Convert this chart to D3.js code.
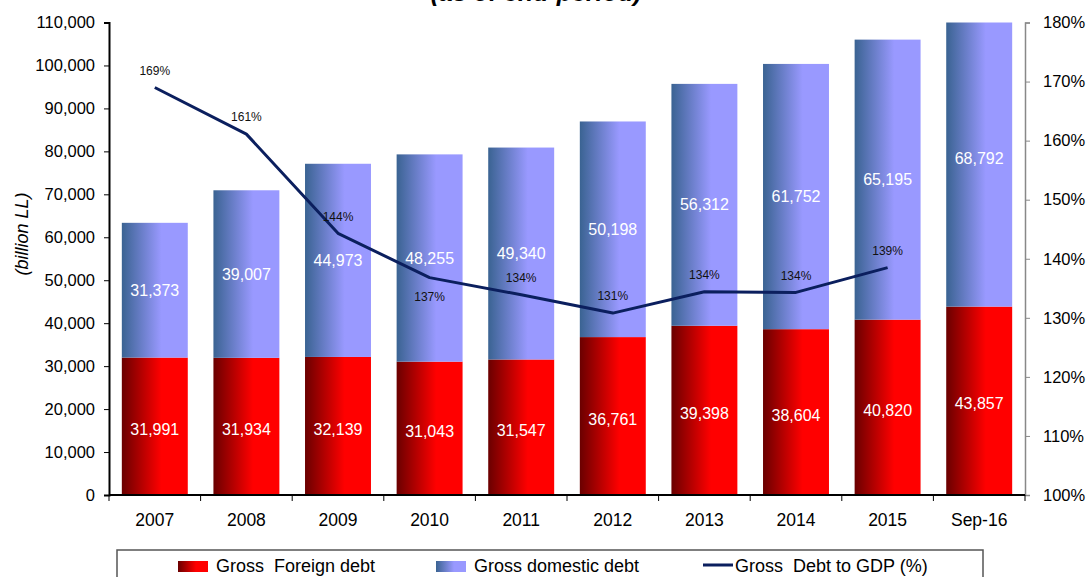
<!DOCTYPE html>
<html>
<head>
<meta charset="utf-8">
<script src="https://cdn.jsdelivr.net/npm/d3@7"></script>
<style>
  body { margin: 0; background: #fff; }
  svg { font-family: "Liberation Sans", Arial, sans-serif; }
</style>
</head>
<body>
<div id="chart"></div>
<script>
// categories and series (billion LL)
const years = ["2007", "2008", "2009", "2010", "2011", "2012", "2013", "2014", "2015", "Sep-16"];
const foreignDebt = [31991, 31934, 32139, 31043, 31547, 36761, 39398, 38604, 40820, 43857];
const domesticDebt = [31373, 39007, 44973, 48255, 49340, 50198, 56312, 61752, 65195, 68792];
// gross debt to GDP (%), no value for Sep-16
const debtToGdp = [169.0, 161.1, 144.3, 136.8, 133.9, 130.8, 134.4, 134.3, 138.5];
const leftTicks = d3.range(0, 110001, 10000);
const rightTicks = d3.range(100, 181, 10);

const width = 1086, height = 577;
const margin = { top: 22.5, right: 61, bottom: 82, left: 109 };
const innerWidth = width - margin.left - margin.right;
const innerHeight = height - margin.top - margin.bottom;

const svg = d3.select("#chart").append("svg")
  .attr("width", width)
  .attr("height", height);

const defs = svg.append("defs");

// horizontal gradients like the original bars
function addGradient(id, dark, light) {
  const grad = defs.append("linearGradient")
    .attr("id", id)
    .attr("x1", 0).attr("x2", 1).attr("y1", 0).attr("y2", 0);
  grad.append("stop").attr("offset", 0).attr("stop-color", dark);
  grad.append("stop").attr("offset", 0.6).attr("stop-color", light);
  grad.append("stop").attr("offset", 1).attr("stop-color", light);
}
addGradient("gradRed", "#6a0000", "#ff0000");
addGradient("gradBlue", "#3a6392", "#9999ff");

defs.append("clipPath").attr("id", "plotClip")
  .append("rect")
  .attr("x", 0).attr("y", 0)
  .attr("width", innerWidth).attr("height", innerHeight + 2);

const g = svg.append("g")
  .attr("transform", `translate(${margin.left}, ${margin.top})`);

// scales
const x = d3.scaleBand()
  .domain(years)
  .range([0, innerWidth])
  .paddingInner(0.28)
  .paddingOuter(0.14);

const y = d3.scaleLinear()
  .domain([0, 110000])
  .range([innerHeight, 0]);

const yRight = d3.scaleLinear()
  .domain([100, 180])
  .range([innerHeight, 0]);

// stacked data
const data = years.map((yr, i) => ({ year: yr, foreign: foreignDebt[i], domestic: domesticDebt[i] }));
const stack = d3.stack().keys(["foreign", "domestic"]);
const series = stack(data);
const fills = { foreign: "url(#gradRed)", domestic: "url(#gradBlue)" };

const barsG = g.append("g").attr("clip-path", "url(#plotClip)");

barsG.selectAll("g.series")
  .data(series)
  .join("g")
  .attr("class", "series")
  .attr("fill", d => fills[d.key])
  .selectAll("rect")
  .data(d => d)
  .join("rect")
  .attr("x", d => x(d.data.year))
  .attr("y", d => y(d[1]))
  .attr("width", x.bandwidth())
  .attr("height", d => y(d[0]) - y(d[1]));

// value labels in each segment
const fmt = d3.format(",");
series.forEach(s => {
  //foreign labels sit a little lower in the original
  const shift = s.key === "foreign" ? 3 : 0;
  g.append("g").selectAll("text")
    .data(s)
    .join("text")
    .attr("x", d => x(d.data.year) + x.bandwidth() / 2)
    .attr("y", d => y((d[0] + d[1]) / 2) + shift)
    .attr("dy", "0.35em")
    .attr("text-anchor", "middle")
    .attr("fill", "#fff")
    .style("font-size", "16px")
    .text(d => fmt(d[1] - d[0]));
});

// left axis
const axLeft = g.append("g")
  .call(d3.axisLeft(y).tickValues(leftTicks).tickFormat(fmt).tickSize(5).tickPadding(9));
axLeft.select(".domain").attr("stroke", "#000").attr("stroke-width", 2);
axLeft.selectAll(".tick line").attr("stroke", "#000");
axLeft.selectAll("text").style("font-size", "16.5px").attr("fill", "#000");

// right axis
const axRight = g.append("g")
  .attr("transform", `translate(${innerWidth}, 0)`)
  .call(d3.axisRight(yRight).tickValues(rightTicks).tickFormat(d => d + "%").tickSize(5).tickPadding(13));
axRight.select(".domain").attr("stroke", "#888").attr("stroke-width", 1.5);
axRight.selectAll(".tick line").attr("stroke", "#888");
axRight.selectAll("text").style("font-size", "16.5px").attr("fill", "#000");

// bottom axis: ticks on the boundaries between categories
const xAxisG = g.append("g").attr("transform", `translate(0, ${innerHeight})`);
xAxisG.append("line")
  .attr("x1", 0).attr("x2", innerWidth)
  .attr("stroke", "#000").attr("stroke-width", 2);
xAxisG.selectAll("line.tick")
  .data(d3.range(years.length + 1))
  .join("line")
  .attr("class", "tick")
  .attr("x1", i => i * x.step()).attr("x2", i => i * x.step())
  .attr("y1", 0).attr("y2", 6)
  .attr("stroke", "#000");
xAxisG.selectAll("text")
  .data(years)
  .join("text")
  .attr("x", d => x(d) + x.bandwidth() / 2)
  .attr("y", 31)
  .attr("text-anchor", "middle")
  .style("font-size", "17.5px")
  .text(d => d);

// debt to GDP line
const lineData = debtToGdp.map((v, i) => ({ year: years[i], v: v }));
const line = d3.line()
  .x(d => x(d.year) + x.bandwidth() / 2)
  .y(d => yRight(d.v));

g.append("path")
  .datum(lineData)
  .attr("d", line)
  .attr("fill", "none")
  .attr("stroke", "#0b1f5e")
  .attr("stroke-width", 3)
  .attr("stroke-linejoin", "round");

g.append("g").selectAll("text")
  .data(lineData)
  .join("text")
  .attr("x", d => x(d.year) + x.bandwidth() / 2)
  .attr("y", d => yRight(d.v) + (d.year === "2010" ? 19 : -17))
  .attr("dy", "0.35em")
  .attr("text-anchor", "middle")
  .attr("fill", "#111")
  .style("font-size", "12px")
  .text(d => d3.format(".0f")(d.v) + "%");

// axis title
svg.append("text")
  .attr("transform", "rotate(-90)")
  .attr("x", -234)
  .attr("y", 28)
  .attr("text-anchor", "middle")
  .style("font-size", "18px")
  .style("font-style", "italic")
  .text("(billion LL)");

// chart subtitle, cut by the top edge
svg.append("text")
  .attr("x", 536)
  .attr("y", 1)
  .attr("text-anchor", "middle")
  .style("font-size", "25px")
  .style("font-style", "italic")
  .style("font-weight", "bold")
  .text("(as of end-period)");

// legend
const legend = svg.append("g");
legend.append("rect")
  .attr("x", 117).attr("y", 550)
  .attr("width", 866).attr("height", 40)
  .attr("fill", "none")
  .attr("stroke", "#555")
  .attr("stroke-width", 1.5);

const legendItems = [
  { label: "Gross  Foreign debt", fill: "url(#gradRed)", x: 178, type: "rect" },
  { label: "Gross domestic debt", fill: "url(#gradBlue)", x: 436, type: "rect" },
  { label: "Gross  Debt to GDP (%)", fill: "#0b1f5e", x: 703, type: "line" }
];
legendItems.forEach(item => {
  if (item.type === "rect") {
    legend.append("rect")
      .attr("x", item.x).attr("y", 561)
      .attr("width", 30).attr("height", 11)
      .attr("fill", item.fill);
  } else {
    legend.append("line")
      .attr("x1", item.x).attr("x2", item.x + 30)
      .attr("y1", 565).attr("y2", 565)
      .attr("stroke", item.fill).attr("stroke-width", 3);
  }
  legend.append("text")
    .attr("x", item.type === "rect" ? item.x + 38 : item.x + 32)
    .attr("y", 572)
    .style("font-size", "18px")
    .style("white-space", "pre")
    .text(item.label);
});
</script>
</body>
</html>
